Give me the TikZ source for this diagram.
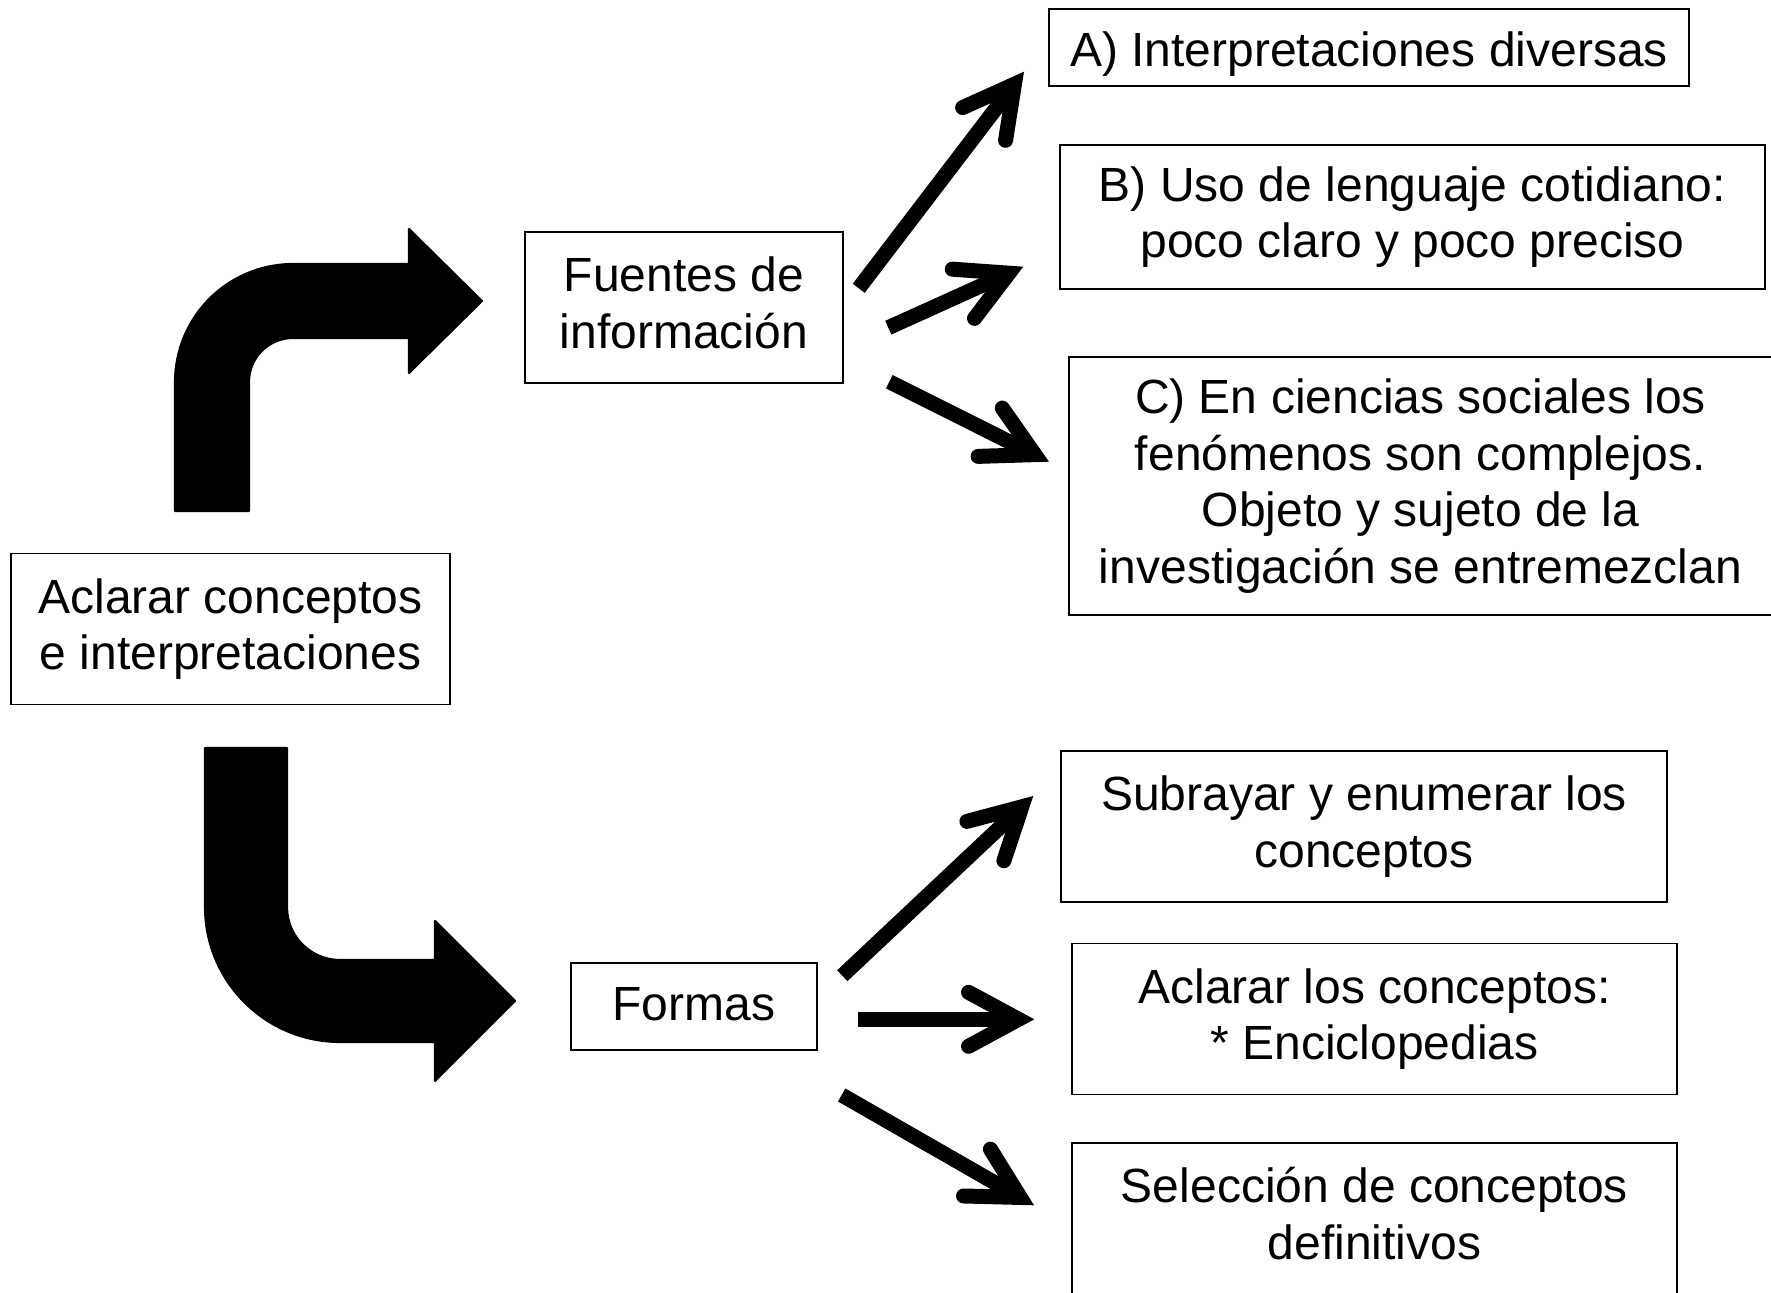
\documentclass[tikz,border=0pt]{standalone}
\usepackage{fontspec}
\setmainfont{Liberation Sans}
\usetikzlibrary{arrows.meta}
\tikzset{
  caja/.style={draw, line width=0.5pt, align=center, inner sep=0pt, text depth=1mm,
    font=\fontsize{13.66pt}{16.1pt}\selectfont},
  flecha/.style={line width=1.5mm,
    -{Straight Barb[length=5mm,width=5.4mm,line cap=round,line join=miter]}},
  codo/.style={fill=black, draw=black, line width=0.6pt, line join=round}
}
\begin{document}
\begin{tikzpicture}[x=0.1mm,y=0.1mm]
  \useasboundingbox (0,0) rectangle (1771,1292);

  \node[caja, minimum width=43.9mm, minimum height=15.1mm] (aclarar) at (230.5,663) {Aclarar conceptos\\e interpretaciones};
  \node[caja, minimum width=31.8mm, minimum height=15.1mm] (fuentes) at (684,984.5) {Fuentes de\\información};
  \node[caja, minimum width=24.6mm, minimum height=8.7mm, text height=3.4mm, text depth=0.6mm] (formas) at (694,285.5) {Formas};

  \node[caja, minimum width=64mm, minimum height=7.7mm, text height=4.9mm] (diversas) at (1369,1244.5) {A) Interpretaciones diversas};
  \node[caja, minimum width=70.5mm, minimum height=14.4mm] (cotidiano) at (1412.5,1075) {B) Uso de lenguaje cotidiano:\\poco claro y poco preciso};
  \node[caja, minimum width=70.3mm, minimum height=25.8mm] (sociales) at (1420.5,806) {C) En ciencias sociales los\\fenómenos son complejos.\\Objeto y sujeto de la\\investigación se entremezclan};

  \node[caja, minimum width=60.6mm, minimum height=15.1mm] (subrayar) at (1364,465.5) {Subrayar y enumerar los\\conceptos};
  \node[caja, minimum width=60.5mm, minimum height=15.1mm] (enciclo) at (1374.5,273) {Aclarar los conceptos:\\* Enciclopedias};
  \node[caja, minimum width=60.5mm, minimum height=15.1mm] (seleccion) at (1374.5,73.5) {Selección de conceptos\\definitivos};

  \fill[codo] (175,781) -- (175,910) arc[start angle=180, end angle=90, radius=11.8mm] -- (409,1028) -- (409,1063) -- (482,991)
    -- (409,919) -- (409,954) -- (293,954) arc[start angle=90, end angle=180, radius=4.4mm] -- (249,781) -- cycle;
  \fill[codo] (205,544) -- (205,385) arc[start angle=180, end angle=270, radius=13.5mm] -- (435,250) -- (435,211) -- (515,291)
    -- (435,371) -- (435,332) -- (340,332) arc[start angle=270, end angle=180, radius=5.3mm] -- (287,544) -- cycle;

  \coordinate (f1) at (858.7,1003.7); \coordinate (t1) at (1024,1220.3);
  \coordinate (f2) at (888.3,964.3);  \coordinate (t2) at (1023.3,1025.3);
  \coordinate (f3) at (889.3,910.3);  \coordinate (t3) at (1049,830.3);
  \coordinate (g1) at (842.3,316.3);  \coordinate (s1) at (1033.3,496);
  \coordinate (g2) at (858.3,272.7);  \coordinate (s2) at (1034.3,272.7);
  \coordinate (g3) at (841.7,197);    \coordinate (s3) at (1034,86.7);

  \draw[flecha] (f1) -- (t1); \draw[flecha] (f2) -- (t2); \draw[flecha] (f3) -- (t3);
  \draw[flecha] (g1) -- (s1); \draw[flecha] (g2) -- (s2); \draw[flecha] (g3) -- (s3);
\end{tikzpicture}
\end{document}
